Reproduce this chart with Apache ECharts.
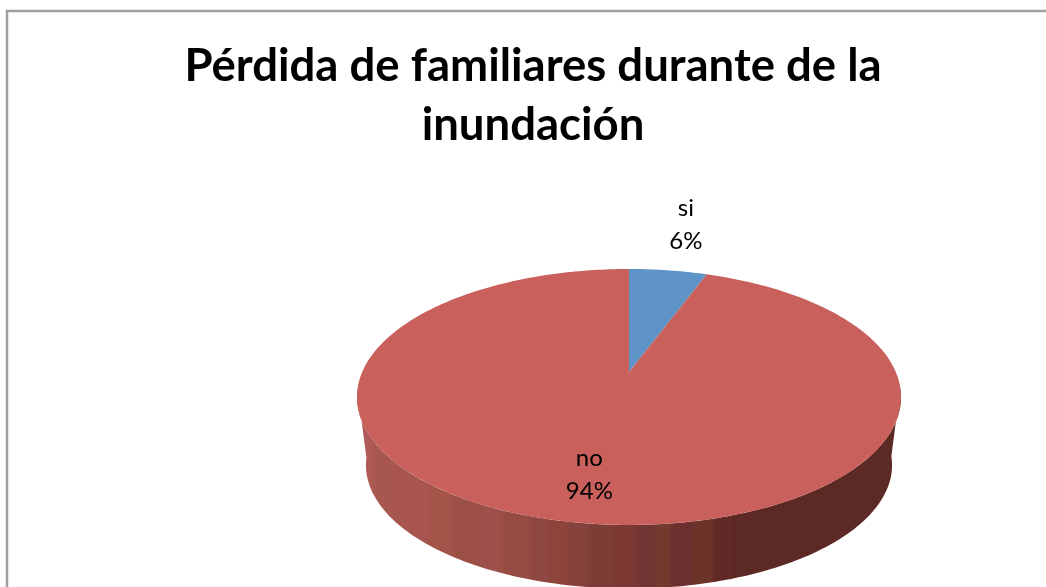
<!DOCTYPE html>
<html><head><meta charset="utf-8">
<style>html,body{margin:0;padding:0;background:#fff}#c{width:1046px;height:587px}</style>
<script src="https://cdn.jsdelivr.net/npm/echarts@6/dist/echarts.min.js"></script>
</head><body><div id="c"></div>
<script>
const titleText = 'Pérdida de familiares durante de la\ninundación';
const categories = ['si', 'no'];
const values = [5.6, 94.4];
const topColors = ['#5E93C7', '#C9605C'];
const labelRadii = [1.59, 0.73];
const sideStopX = [357,375,400,430,455,478,505,532,552,570,592,615,640,658,673,695,716,735,901];
const sideStopC = ['#AE5A58','#A8574E','#A85550','#A5544A','#9C5045','#9D5049','#964C43','#8E4741','#8D4539','#85413C','#7B3D36','#7C3833','#703432','#733A2E','#6E2F2F','#6C3329','#622A26','#5C2925','#5C2925'];

const top3d = {x:629, y:372, a:266.8, b:123.1, p:0.195};
const bot3d = {x:629, y:441, a:258, b:118.8, p:0.195};
function project(g, angle, r){
  const u = r*Math.sin(angle), v = r*Math.cos(angle), w = 1 + g.p*v;
  return [g.x + g.a*u/w, g.y - g.b*v/w];
}
const total = values.reduce((s,v)=>s+v,0);
function range(i){
  let s = 0; for(let k=0;k<i;k++) s += values[k];
  return [s/total*2*Math.PI, (s+values[i])/total*2*Math.PI];
}
function sideGradient(){
  const x0 = sideStopX[0], x1 = sideStopX[sideStopX.length-1], stops = [];
  sideStopC.forEach((c,i)=>{
    if(i===sideStopX.length-1) return;
    stops.push({offset:(sideStopX[i]-x0)/(x1-x0),color:c});
    stops.push({offset:(sideStopX[i+1]-5-x0)/(x1-x0),color:c});
  });
  stops.push({offset:1,color:sideStopC[sideStopC.length-1]});
  return new echarts.graphic.LinearGradient(x0,0,x1,0,stops,true);
}
function sideItem(params){
  const [a0,a1] = range(params.dataIndex), upper = [], lower = [];
  const step = Math.PI/180;
  for(let t=a0;t<=a1;t+=step){
    if(Math.cos(t) > -0.12) continue;
    upper.push(project(top3d,t,1));
    lower.unshift(project(bot3d,t,1));
  }
  if(!upper.length) return {type:'group',children:[]};
  return {type:'polygon',shape:{points:upper.concat(lower)},style:{fill:sideGradient()},silent:true};
}
function topItem(params){
  const i = params.dataIndex, [a0,a1] = range(i), pts=[project(top3d,0,0)];
  const n = Math.ceil((a1-a0)/(Math.PI/180));
  for(let k=0;k<=n;k++) pts.push(project(top3d,a0+(a1-a0)*k/n,1));
  return {type:'polygon',shape:{points:pts},style:{fill:topColors[i]},silent:true};
}
function labelItem(params){
  const i = params.dataIndex, [a0,a1] = range(i), c = project(top3d,(a0+a1)/2,labelRadii[i]);
  return {type:'text',x:c[0],y:c[1],style:{
    text:categories[i]+'\n'+Math.round(values[i]/total*100)+'%',
    fill:'#000',font:'24px Lato',align:'center',verticalAlign:'middle',lineHeight:33
  },silent:true};
}
const data = values.map(v=>[v]);
const chart = echarts.init(document.getElementById('c'),null,{renderer:'canvas'});
chart.setOption({
  animation:false,
  backgroundColor:'#fff',
  title:{text:titleText,left:528,top:32,textAlign:'center',
    textStyle:{fontFamily:'Lato',fontWeight:'bold',fontSize:45.5,lineHeight:59,color:'#000'}},
  graphic:[{type:'polyline',shape:{points:[[7,587],[7,11],[1046,11]]},style:{stroke:'#A0A0A0',lineWidth:2.5,fill:'none'},silent:true}],
  series:[
    {type:'custom',coordinateSystem:'none',data,renderItem:sideItem,z:1},
    {type:'custom',coordinateSystem:'none',data,renderItem:topItem,z:2},
    {type:'custom',coordinateSystem:'none',data,renderItem:labelItem,z:3}
  ]
});
</script></body></html>
